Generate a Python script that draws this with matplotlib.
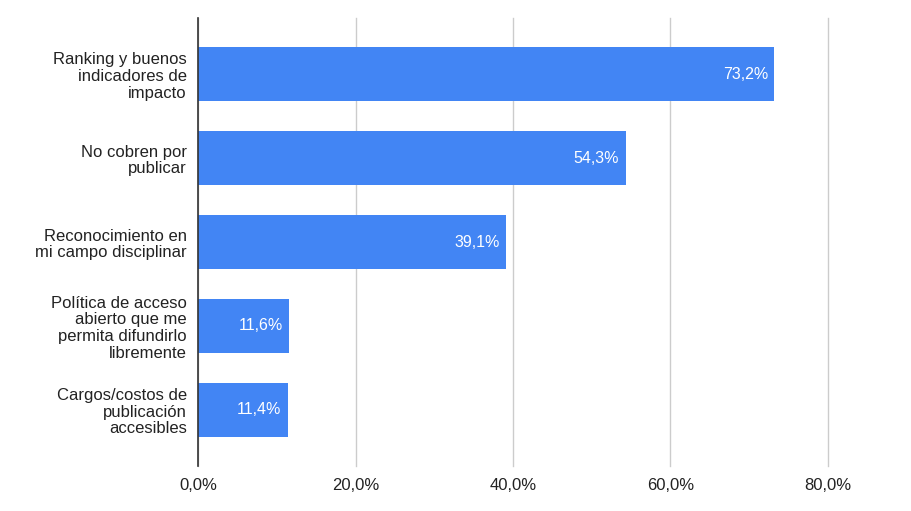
import matplotlib
matplotlib.use("Agg")
import matplotlib.pyplot as plt

categories = [
    "Ranking y buenos\nindicadores de\nimpacto",
    "No cobren por\npublicar",
    "Reconocimiento en\nmi campo disciplinar",
    "Política de acceso\nabierto que me\npermita difundirlo\nlibremente",
    "Cargos/costos de\npublicación\naccesibles",
]
values = [0.732, 0.543, 0.391, 0.116, 0.114]
value_labels = ["73,2%", "54,3%", "39,1%", "11,6%", "11,4%"]
xticks = [0.0, 0.2, 0.4, 0.6, 0.8]
xtick_labels = ["0,0%", "20,0%", "40,0%", "60,0%", "80,0%"]

plt.rcParams['font.family'] = ['Liberation Sans', 'DejaVu Sans']

fig = plt.figure(figsize=(9.12, 5.11), dpi=100)
ax = fig.add_axes([198/912, 1-466/511, (828-198)/912, (466-18)/511])

y = list(range(len(categories)))
ax.barh(y, values, height=0.64, color="#4285F4", zorder=3)
for yi, v, lab in zip(y, values, value_labels):
    ax.text(v - 0.008, yi, lab, ha="right", va="center", color="white", fontsize=11.5, zorder=4)

ax.set_xlim(0, 0.8)
ax.set_ylim(4.67, -0.67)
ax.set_yticks(y)
ax.set_yticklabels(categories, fontsize=12, color="#222222", linespacing=1.15)
ax.set_xticks(xticks)
ax.set_xticklabels(xtick_labels, fontsize=12, color="#222222")
ax.tick_params(axis="both", length=0)
ax.tick_params(axis="y", pad=8)
ax.tick_params(axis="x", pad=9)
ax.grid(axis="x", color="#cccccc", linewidth=1, zorder=0)
for gl in ax.get_xgridlines():
    gl.set_clip_on(False)
for s in ["top", "right", "bottom"]:
    ax.spines[s].set_visible(False)
ax.spines["left"].set_color("#333333")
ax.spines["left"].set_linewidth(1.2)
ax.spines["left"].set_zorder(5)

fig.savefig("out.png", dpi=100)
